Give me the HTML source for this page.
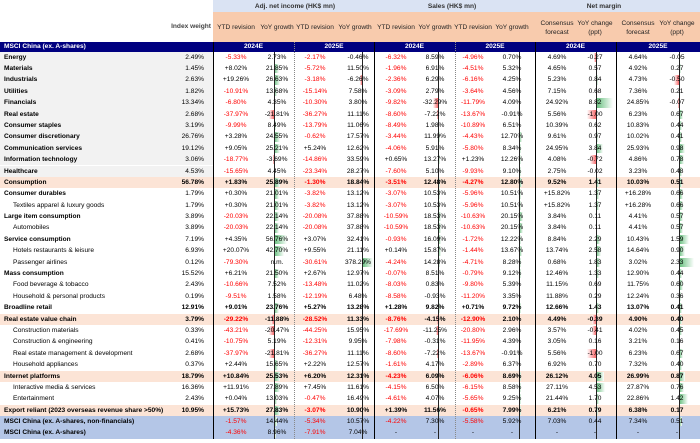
<!DOCTYPE html>
<html><head><meta charset="utf-8"><style>
body{margin:0;width:700px;height:443px;overflow:hidden;background:#fff;font-family:"Liberation Sans",Arial,sans-serif;font-size:6.6px;color:#000;position:relative}
.a{position:absolute;white-space:nowrap}
.c{transform:translateX(-50%)}
.b{font-weight:bold}
.red{color:#ff0000}
</style></head><body>
<div class="a" style="left:213px;top:0;width:487px;height:12px;background:#dae3f3"></div>
<div class="a" style="left:213px;top:12px;width:487px;height:30px;background:#f8cbad"></div>
<div class="a b c" style="left:295px;top:3px;color:#333">Adj. net income (HK$ mn)</div>
<div class="a b c" style="left:452px;top:3px;color:#333">Sales (HK$ mn)</div>
<div class="a b c" style="left:604px;top:3px;color:#333">Net margin</div>
<div class="a b" style="right:489px;top:23px;color:#444">Index weight</div>
<div class="a" style="left:0;top:42px;width:213px;height:10px;background:#000080"></div>
<div class="a b" style="left:4px;top:43px;color:#fff">MSCI China (ex. A-shares)</div>
<div id="root"></div>
<script>
const names=["Energy","Materials","Industrials","Utilities","Financials","Real estate","Consumer staples","Consumer discretionary","Communication services","Information technology","Healthcare","Consumption","Consumer durables","Textiles apparel & luxury goods","Large item consumption","Automobiles","Service consumption","Hotels restaurants & leisure","Passenger airlines","Mass consumption","Food beverage & tobacco","Household & personal products","Broadline retail","Real estate value chain","Construction materials","Construction & engineering","Real estate management & development","Household appliances","Internet platforms","Interactive media & services","Entertainment","Export reliant (2023 overseas revenue share >50%)","MSCI China (ex. A-shares, non-financials)","MSCI China (ex. A-shares)"];
const indexWeight=[2.49,1.45,2.63,1.82,13.34,2.68,3.19,26.76,19.12,3.06,4.53,56.78,1.79,1.79,3.89,3.89,7.19,6.93,0.12,15.52,2.43,0.19,12.91,3.79,0.33,0.41,2.68,0.37,18.79,16.36,2.43,10.95,null,null];
const adjYtd24=[-5.33,8.02,19.26,-10.91,-6.80,-37.97,-9.99,3.28,9.05,-18.77,-15.65,1.83,0.30,0.30,-20.03,-20.03,4.35,20.07,-79.30,6.21,-10.66,-9.51,9.01,-29.22,-43.21,-10.75,-37.97,2.44,10.84,11.91,0.04,15.73,-1.57,-4.36];
const adjYoy24=[2.73,21.85,26.63,13.68,4.35,-21.81,8.49,24.55,25.21,-3.69,4.45,25.89,21.01,21.01,22.14,22.14,56.76,42.70,null,21.50,7.52,1.58,23.76,-11.88,-20.47,5.19,-21.81,15.65,25.53,27.89,13.03,27.83,14.44,8.96];
const adjYtd25=[-2.17,-5.72,-3.18,-15.14,-10.30,-36.27,-13.79,-0.62,5.24,-14.86,-23.34,-1.30,-3.82,-3.82,-20.08,-20.08,3.07,9.55,-30.61,2.67,-13.48,-12.19,5.27,-28.52,-44.25,-12.31,-36.27,2.22,6.20,7.45,-0.47,-3.07,-5.34,-7.91];
const adjYoy25=[-0.46,11.50,-6.26,7.58,3.80,11.11,11.06,17.57,12.62,33.59,28.27,18.84,13.12,13.12,37.88,37.88,32.41,21.11,378.29,12.97,11.02,6.48,13.28,11.33,15.95,9.95,11.11,12.57,12.31,11.61,16.49,10.90,10.57,7.04];
const salesYtd24=[-6.32,-1.96,-2.36,-3.09,-9.82,-8.60,-8.49,-3.44,-4.06,0.65,-7.60,-3.51,-3.07,-3.07,-10.59,-10.59,-0.93,0.14,-4.24,-0.07,-8.03,-8.58,1.28,-8.76,-17.69,-7.98,-8.60,-1.61,-4.23,-4.15,-4.61,1.39,-4.22,null];
const salesYoy24=[8.59,6.91,6.29,2.79,-32.29,-7.22,1.98,11.99,5.91,13.27,5.10,12.48,10.53,10.53,18.53,18.53,16.09,15.87,14.28,8.51,0.83,-0.93,9.82,-4.15,-11.25,-0.31,-7.22,4.17,6.09,6.50,4.07,11.56,7.30,null];
const salesYtd25=[-4.96,-4.51,-6.16,-3.64,-11.79,-13.67,-10.89,-4.43,-5.80,1.23,-9.93,-4.27,-5.96,-5.96,-10.63,-10.63,-1.72,-1.44,-4.71,-0.79,-9.80,-11.20,0.71,-12.90,-20.80,-11.95,-13.67,-2.89,-6.06,-6.15,-5.65,-0.65,-5.58,null];
const salesYoy25=[0.70,5.32,4.25,4.56,4.09,-0.91,6.51,12.70,8.34,12.26,9.10,12.80,10.51,10.51,20.15,20.15,12.22,13.67,8.28,9.12,5.39,3.35,9.72,2.10,2.96,4.39,-0.91,6.37,8.69,8.58,9.25,7.99,5.92,null];
const margin24=[4.69,4.65,5.23,7.15,24.92,5.56,10.39,9.61,24.95,4.08,2.75,9.52,15.82,15.82,3.84,3.84,8.84,13.74,0.68,12.46,11.15,11.88,12.66,4.49,3.57,3.05,5.56,6.92,26.12,27.11,21.44,6.21,7.03,null];
const marginChg24=[-0.27,0.57,0.84,0.68,8.82,-1.00,0.62,0.97,3.84,-0.72,-0.02,1.41,1.37,1.37,0.11,0.11,2.29,2.58,1.83,1.33,0.69,0.29,1.43,-0.39,-0.41,0.16,-1.00,0.70,4.05,4.53,1.70,0.79,0.44,null];
const margin25=[4.64,4.92,4.73,7.36,24.85,6.23,10.83,10.02,25.93,4.86,3.23,10.03,16.28,16.28,4.41,4.41,10.43,14.64,3.02,12.90,11.75,12.24,13.07,4.90,4.02,3.21,6.23,7.32,26.99,27.87,22.86,6.38,7.34,null];
const marginChg25=[-0.05,0.27,-0.50,0.21,-0.07,0.67,0.44,0.41,0.98,0.78,0.48,0.51,0.66,0.66,0.57,0.57,1.59,0.90,2.33,0.44,0.60,0.36,0.41,0.40,0.45,0.16,0.67,0.40,0.87,0.76,1.42,0.17,0.51,null];

const indented=[13,15,17,18,20,21,24,25,26,27,29,30];
const peachRows=[11,23,28,31];
const blueRows=[32,33];
const plusRows=[12,13];
const root=document.getElementById('root');
const top0=51.6, rh=11.39;
function el(cls,style,txt){const d=document.createElement('div');d.className='a '+cls;d.style.cssText=style;if(txt!=null)d.textContent=txt;root.appendChild(d);return d;}
function y(i){return top0+i*rh;}
// section header cells
const secs=[[213,294,'2024E'],[294,374,'2025E'],[374,455,'2024E'],[455,535,'2025E'],[535,616,'2024E'],[616,700,'2025E']];
secs.forEach(s=>{
  const d=el('','left:'+s[0]+'px;top:42px;width:'+(s[1]-s[0])+'px;height:10px;background:#000080');
  
  
  const t=el('b c','left:'+((s[0]+s[1])/2)+'px;top:43px;color:#fff',s[2]);
  
  
});
const subHdr=[[236,'YTD revision'],[277,'YoY growth'],[315,'YTD revision'],[355,'YoY growth'],[396,'YTD revision'],[435,'YoY growth'],[473,'YTD revision'],[512,'YoY growth'],[557,'Consensus\nforecast'],[595,'YoY change\n(ppt)'],[638,'Consensus\nforecast'],[677,'YoY change\n(ppt)']];
subHdr.forEach(h=>{
  const two=h[1].indexOf('\n')>=0;
  const d=el('c','left:'+h[0]+'px;top:'+(two?19:23)+'px;text-align:center;white-space:pre;line-height:9px;color:#222',h[1]);
  
  
});
// row backgrounds
names.forEach((n,i)=>{
  let bg=null,w=700,l=0;
  if(peachRows.includes(i))bg='#fce4d6';
  else if(blueRows.includes(i))bg='#b4c6e7';
  else if(i<=10){bg='#f2f2f2';w=213;}
  if(bg){const d=el('','left:'+l+'px;top:'+y(i)+'px;width:'+w+'px;height:'+rh+'px;background:'+bg);
    
    }
});
// bar columns
const barCols=[[adjYoy24,274,0.23,0.23],[adjYoy25,362,0.03,0.3],[salesYoy24,438,0.17,0.16],[salesYoy25,519,0.2,0.3],[marginChg24,596,1.95,9],[marginChg25,679,6.4,10]];
barCols.forEach(bc=>{
  bc[0].forEach((v,i)=>{
    if(v==null)return;
    const w=Math.abs(v)*(v>=0?bc[2]:bc[3]);
    const d=el('', v>=0?
      'left:'+bc[1]+'px;top:'+(y(i)+1)+'px;width:'+w+'px;height:'+(rh-2)+'px;background:linear-gradient(90deg,#63be7b,#fff)':
      'left:'+(bc[1]-w)+'px;top:'+(y(i)+1)+'px;width:'+w+'px;height:'+(rh-2)+'px;background:linear-gradient(90deg,#fff,#f8696b)');
    
    
  });
  const ax=el('','left:'+bc[1]+'px;top:'+top0+'px;width:1px;height:'+(rh*34)+'px;background:#222');
  
  
});
// separators
[[213,'#000','solid',1.5],[294,'#888','dotted',1],[374,'#000','solid',1.5],[455,'#888','dotted',1],[535,'#000','solid',1.5],[616,'#000','solid',1.5]].forEach(s=>{
  const d=el('','left:'+s[0]+'px;top:42px;width:0;height:'+(top0-42+rh*34)+'px;border-left:'+s[3]+'px '+s[2]+' '+s[1]);
  
  
});
function pct(v,sign){if(v==null)return '-';return (sign&&v>0?'+':'')+v.toFixed(2)+'%';}
const valCols=[[adjYtd24,236,'ytd'],[adjYoy24,277,'yoy'],[adjYtd25,315,'ytd'],[adjYoy25,358,'yoy'],[salesYtd24,396,'ytd'],[salesYoy24,435,'yoy'],[salesYtd25,473,'ytd'],[salesYoy25,512,'yoy'],[margin24,557,'cons'],[marginChg24,595,'chg'],[margin25,638,'cons'],[marginChg25,677,'chg']];
names.forEach((n,i)=>{
  const bold=(i<=12||i==14||i==16||i==19||i==22||i==23||i==28||i>=31)&&!indented.includes(i);
  const rb=peachRows.includes(i)||i==22;
  const t=el(bold?'b':'','left:'+(indented.includes(i)?13:4)+'px;top:'+(y(i)+2)+'px',n);
  
  
  if(indexWeight[i]!=null){const w=el(rb?'b':'','right:'+(700-204)+'px;top:'+(y(i)+2)+'px',pct(indexWeight[i]));
    
    }
  valCols.forEach(c=>{
    const v=c[0][i];let txt,red=false;
    if(c[0]===adjYoy24&&i==18)txt='n.m.';
    else if(v==null)txt='-';
    else if(c[2]=='ytd'){txt=pct(v,true);red=v<0;}
    else if(c[2]=='yoy')txt=pct(v);
    else if(c[2]=='cons')txt=pct(v,plusRows.includes(i));
    else txt=v.toFixed(2);
    const d=el('c'+(rb?' b':'')+(red?' red':''),'left:'+c[1]+'px;top:'+(y(i)+2)+'px',txt);
    
    
  });
});
</script>
</body></html>
